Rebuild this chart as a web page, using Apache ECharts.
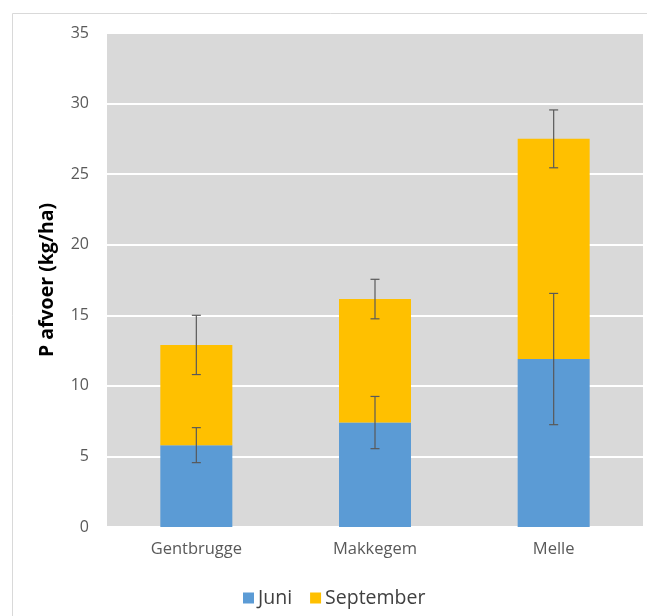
<!DOCTYPE html>
<html><head><meta charset="utf-8">
<script src="https://cdn.jsdelivr.net/npm/echarts@6/dist/echarts.min.js"></script>
<style>html,body{margin:0;padding:0;background:#fff}#c{width:647px;height:616px}</style>
</head><body><div id="c"></div>
<script>
const categories = ['Gentbrugge', 'Makkegem', 'Melle'];
const juni = [5.8, 7.4, 11.9];
const september = [7.1, 8.75, 15.6];
const juniErr = [1.24, 1.85, 4.65];
const septErr = [2.1, 1.4, 2.05];
const yTicks = [0, 5, 10, 15, 20, 25, 30, 35];

const FONT = '"Open Sans", "Noto Sans", sans-serif';
const chart = echarts.init(document.getElementById('c'), null, {renderer: 'canvas'});

function errData(base, err) {
  return categories.map((c, i) => [i, base[i], err[i]]);
}
const juniTop = juni.slice();
const totalTop = juni.map((v, i) => v + september[i]);

function renderErr(params, api) {
  const x = api.value(0), y = api.value(1), e = api.value(2);
  const hi = api.coord([x, y + e]);
  const lo = api.coord([x, y - e]);
  const cap = 4.5;
  const style = {stroke: '#595959', lineWidth: 1.2};
  return {
    type: 'group',
    children: [
      {type: 'line', shape: {x1: hi[0], y1: hi[1], x2: lo[0], y2: lo[1]}, style},
      {type: 'line', shape: {x1: hi[0] - cap, y1: hi[1], x2: hi[0] + cap, y2: hi[1]}, style},
      {type: 'line', shape: {x1: lo[0] - cap, y1: lo[1], x2: lo[0] + cap, y2: lo[1]}, style}
    ]
  };
}

chart.setOption({
  animation: false,
  backgroundColor: '#fff',
  graphic: [{
    type: 'rect', z: -10,
    shape: {x: 12.5, y: 13.5, width: 700, height: 700},
    style: {fill: 'none', stroke: '#d9d9d9', lineWidth: 1}
  }],
  grid: {left: 107, right: 4, top: 33, bottom: 89, show: true, backgroundColor: '#d9d9d9', borderWidth: 0},
  legend: {
    data: ['Juni', 'September'],
    left: 238, top: 583,
    itemWidth: 11, itemHeight: 11, itemGap: 18,
    icon: 'rect',
    textStyle: {fontFamily: FONT, fontSize: 19.5, color: '#404040', padding: [0, 0, 0, -1]}
  },
  xAxis: {
    type: 'category', data: categories,
    axisLine: {show: false}, axisTick: {show: false},
    axisLabel: {fontFamily: FONT, fontSize: 16.5, color: '#595959', margin: 14}
  },
  yAxis: {
    type: 'value', min: 0, max: 35, interval: 5,
    name: 'P afvoer (kg/ha)', nameLocation: 'middle', nameGap: 50,
    nameTextStyle: {fontFamily: FONT, fontSize: 19.5, fontWeight: 'bold', color: '#000'},
    axisLine: {show: false}, axisTick: {show: false},
    axisLabel: {fontFamily: FONT, fontSize: 16, color: '#595959', margin: 18,
      formatter: v => yTicks.includes(v) ? String(v) : ''},
    splitLine: {lineStyle: {color: '#ffffff', width: 2}}
  },
  series: [
    {name: 'Juni', type: 'bar', stack: 't', data: juni, barWidth: 72, itemStyle: {color: '#5b9bd5'}},
    {name: 'September', type: 'bar', stack: 't', data: september, barWidth: 72, itemStyle: {color: '#ffc000'}},
    {type: 'custom', name: 'errJ', renderItem: renderErr, data: errData(juniTop, juniErr), z: 10, silent: true},
    {type: 'custom', name: 'errS', renderItem: renderErr, data: errData(totalTop, septErr), z: 10, silent: true}
  ]
});
</script></body></html>
